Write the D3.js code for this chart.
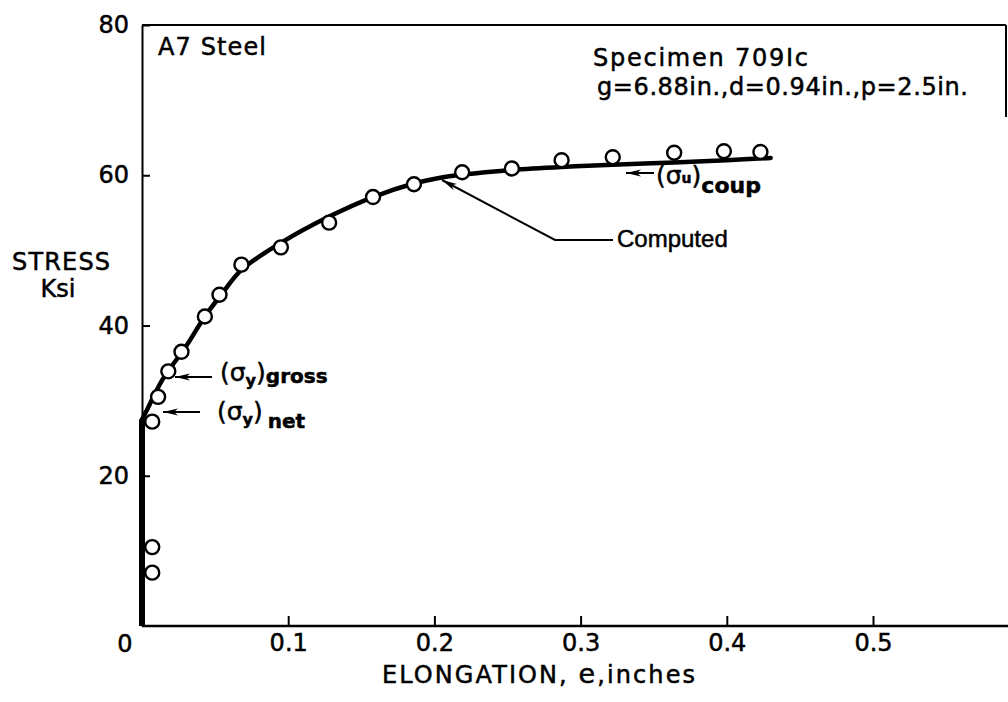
<!DOCTYPE html>
<html>
<head>
<meta charset="utf-8">
<script src="https://cdn.jsdelivr.net/npm/d3@7"></script>
<style>
  html, body { margin: 0; padding: 0; background: #fff; }
  svg { display: block; }
  text { font-family: "DejaVu Sans", "Liberation Sans", sans-serif; fill: #000; stroke: #000; stroke-width: 0.5px; }
</style>
</head>
<body>
<svg id="chart" width="1008" height="702"></svg>
<script>
// ---- data ----
const testElongation = [0.007, 0.007, 0.007, 0.011, 0.018, 0.027, 0.043, 0.053, 0.068, 0.095, 0.128, 0.158, 0.186, 0.219, 0.253, 0.287, 0.322, 0.364, 0.398, 0.423];
const testStress     = [7.1, 10.5, 27.2, 30.5, 33.9, 36.5, 41.2, 44.1, 48.1, 50.4, 53.7, 57.1, 58.8, 60.4, 60.9, 62.0, 62.4, 63.0, 63.2, 63.1];

const elasticElongation = [0, 0];
const elasticStress     = [0, 27.5];

const computedElongation = [0, 0.004, 0.008, 0.014, 0.020, 0.030, 0.043, 0.055, 0.068, 0.095, 0.128, 0.158, 0.186, 0.205, 0.220, 0.253, 0.287, 0.322, 0.364, 0.400, 0.430];
const computedStress     = [27.5, 29.0, 30.6, 32.8, 34.5, 37.2, 41.2, 44.3, 47.4, 51.0, 54.5, 57.1, 58.9, 59.7, 60.1, 60.7, 61.1, 61.4, 61.7, 62.0, 62.3];

const xTickValues = [0.1, 0.2, 0.3, 0.4, 0.5];
const xTickLabels = ["0.1", "0.2", "0.3", "0.4", "0.5"];
const yTickValues = [20, 40, 60, 80];
const yTickLabels = ["20", "40", "60", "80"];

// ---- layout ----
const W = 1008, H = 702;
const svg = d3.select("#chart");
const mLeft = 142, mRight = 1006, mTop = 25, mBottom = 626;

const x = d3.scaleLinear().domain([0, 0.5]).range([mLeft, 873]);
const y = d3.scaleLinear().domain([0, 80]).range([mBottom, mTop]);

const FS = 24;

// frame (top + partial right border)
svg.append("line").attr("x1", mLeft).attr("x2", mRight).attr("y1", mTop).attr("y2", mTop)
  .attr("stroke", "#000").attr("stroke-width", 2);
svg.append("line").attr("x1", mRight).attr("x2", mRight).attr("y1", mTop).attr("y2", 117)
  .attr("stroke", "#000").attr("stroke-width", 2);

// x axis
const xAxis = d3.axisBottom(x).tickValues(xTickValues)
  .tickFormat((d, i) => xTickLabels[i]).tickSizeInner(-10).tickSizeOuter(0).tickPadding(8);
const gx = svg.append("g").attr("transform", `translate(0,${mBottom})`).call(xAxis);
gx.select(".domain").remove();
gx.selectAll(".tick line").attr("stroke", "#000").attr("stroke-width", 2);
gx.selectAll(".tick text").attr("font-size", FS).attr("fill", "#000");
svg.append("line").attr("x1", mLeft).attr("x2", W).attr("y1", mBottom).attr("y2", mBottom)
  .attr("stroke", "#000").attr("stroke-width", 2.5);

// y axis
const yAxis = d3.axisLeft(y).tickValues(yTickValues)
  .tickFormat((d, i) => yTickLabels[i]).tickSizeInner(-8).tickSizeOuter(0).tickPadding(13);
const gy = svg.append("g").attr("transform", `translate(${mLeft},0)`).call(yAxis);
gy.select(".domain").attr("stroke", "#000").attr("stroke-width", 2);
gy.selectAll(".tick line").attr("stroke", "#000").attr("stroke-width", 2);
gy.selectAll(".tick text").attr("font-size", FS).attr("fill", "#000");

// corner zero label
svg.append("text").attr("x", 125).attr("y", 652).attr("text-anchor", "middle")
  .attr("font-size", FS).text("0");

// axis titles
svg.append("text").attr("x", 61).attr("y", 270).attr("text-anchor", "middle")
  .attr("font-size", FS).attr("textLength", 98).attr("lengthAdjust", "spacing").text("STRESS");
svg.append("text").attr("x", 58).attr("y", 297).attr("text-anchor", "middle")
  .attr("font-size", FS).text("Ksi");

const xt = svg.append("text").attr("x", 382).attr("y", 683).attr("font-size", FS)
  .attr("textLength", 313).attr("lengthAdjust", "spacing");
xt.append("tspan").text("ELONGATION, ");
xt.append("tspan").attr("font-size", 27).text("e");
xt.append("tspan").text(",inches");

// ---- curves ----
const line = d3.line().x(d => x(d[0])).y(d => y(d[1]));
svg.append("path")
  .datum(elasticElongation.map((e, i) => [e, elasticStress[i]]))
  .attr("d", line.curve(d3.curveLinear))
  .attr("fill", "none").attr("stroke", "#000").attr("stroke-width", 6);

svg.append("path")
  .datum(computedElongation.map((e, i) => [e, computedStress[i]]))
  .attr("d", d3.line().x(d => x(d[0])).y(d => y(d[1])).curve(d3.curveCatmullRom.alpha(0.5)))
  .attr("fill", "none").attr("stroke", "#000").attr("stroke-width", 4.5)
  .attr("stroke-linejoin", "round").attr("stroke-linecap", "round");

// test points
svg.append("g").selectAll("circle")
  .data(testElongation.map((e, i) => [e, testStress[i]]))
  .join("circle")
  .attr("cx", d => x(d[0])).attr("cy", d => y(d[1])).attr("r", 7)
  .attr("fill", "#fff").attr("stroke", "#000").attr("stroke-width", 2.4);

// ---- annotations ----
const defs = svg.append("defs");
defs.append("marker").attr("id", "arr").attr("viewBox", "0 -5 16 10")
  .attr("refX", 15).attr("refY", 0).attr("markerWidth", 16).attr("markerHeight", 10)
  .attr("markerUnits", "userSpaceOnUse").attr("orient", "auto")
  .append("path").attr("d", "M0,-3.5L15,0L0,3.5L4,0Z").attr("fill", "#000");

function arrow(pts) {
  svg.append("path").attr("d", d3.line()(pts)).attr("fill", "none")
    .attr("stroke", "#000").attr("stroke-width", 2).attr("marker-end", "url(#arr)");
}

svg.append("text").attr("x", 158).attr("y", 55).attr("font-size", FS)
  .attr("textLength", 108).attr("lengthAdjust", "spacing").text("A7 Steel");
svg.append("text").attr("x", 593).attr("y", 66).attr("font-size", FS)
  .attr("textLength", 215).attr("lengthAdjust", "spacing").text("Specimen 709Ic");
svg.append("text").attr("x", 597).attr("y", 95).attr("font-size", FS)
  .attr("textLength", 371).attr("lengthAdjust", "spacing").text("g=6.88in.,d=0.94in.,p=2.5in.");

// (σy)gross
arrow([[212, 377], [175, 377]]);
const tg = svg.append("text").attr("x", 220).attr("y", 381).attr("font-size", 25);
tg.append("tspan").text("(σ");
tg.append("tspan").attr("font-size", 16).attr("font-weight", "bold").attr("dy", 5).text("y");
tg.append("tspan").attr("dy", -5).text(")");
tg.append("tspan").attr("font-size", 20).attr("dy", 2).attr("font-weight", "bold").text("gross");

// (σy)net
arrow([[200, 412], [163, 412]]);
const tn = svg.append("text").attr("x", 217).attr("y", 420).attr("font-size", 25);
tn.append("tspan").text("(σ");
tn.append("tspan").attr("font-size", 16).attr("font-weight", "bold").attr("dy", 5).text("y");
tn.append("tspan").attr("dy", -5).text(")");
tn.append("tspan").attr("font-size", 20).attr("dy", 8).attr("font-weight", "bold").attr("dx", 5).text("net");

// (σu)coup
arrow([[654, 173], [626, 173]]);
const tc = svg.append("text").attr("x", 656).attr("y", 184).attr("font-size", 25);
tc.append("tspan").text("(σ");
tc.append("tspan").attr("font-size", 14).attr("font-weight", "bold").attr("dy", -1).text("u");
tc.append("tspan").attr("dy", 1).text(")");
tc.append("tspan").attr("font-size", 22).attr("dy", 9).attr("font-weight", "bold").text("coup");

// Computed
arrow([[613, 240], [555, 240], [442, 180]]);
svg.append("text").attr("x", 617).attr("y", 247).attr("font-size", FS)
  .style("font-family", "'Liberation Sans', Arial, sans-serif").text("Computed");
</script>
</body>
</html>
